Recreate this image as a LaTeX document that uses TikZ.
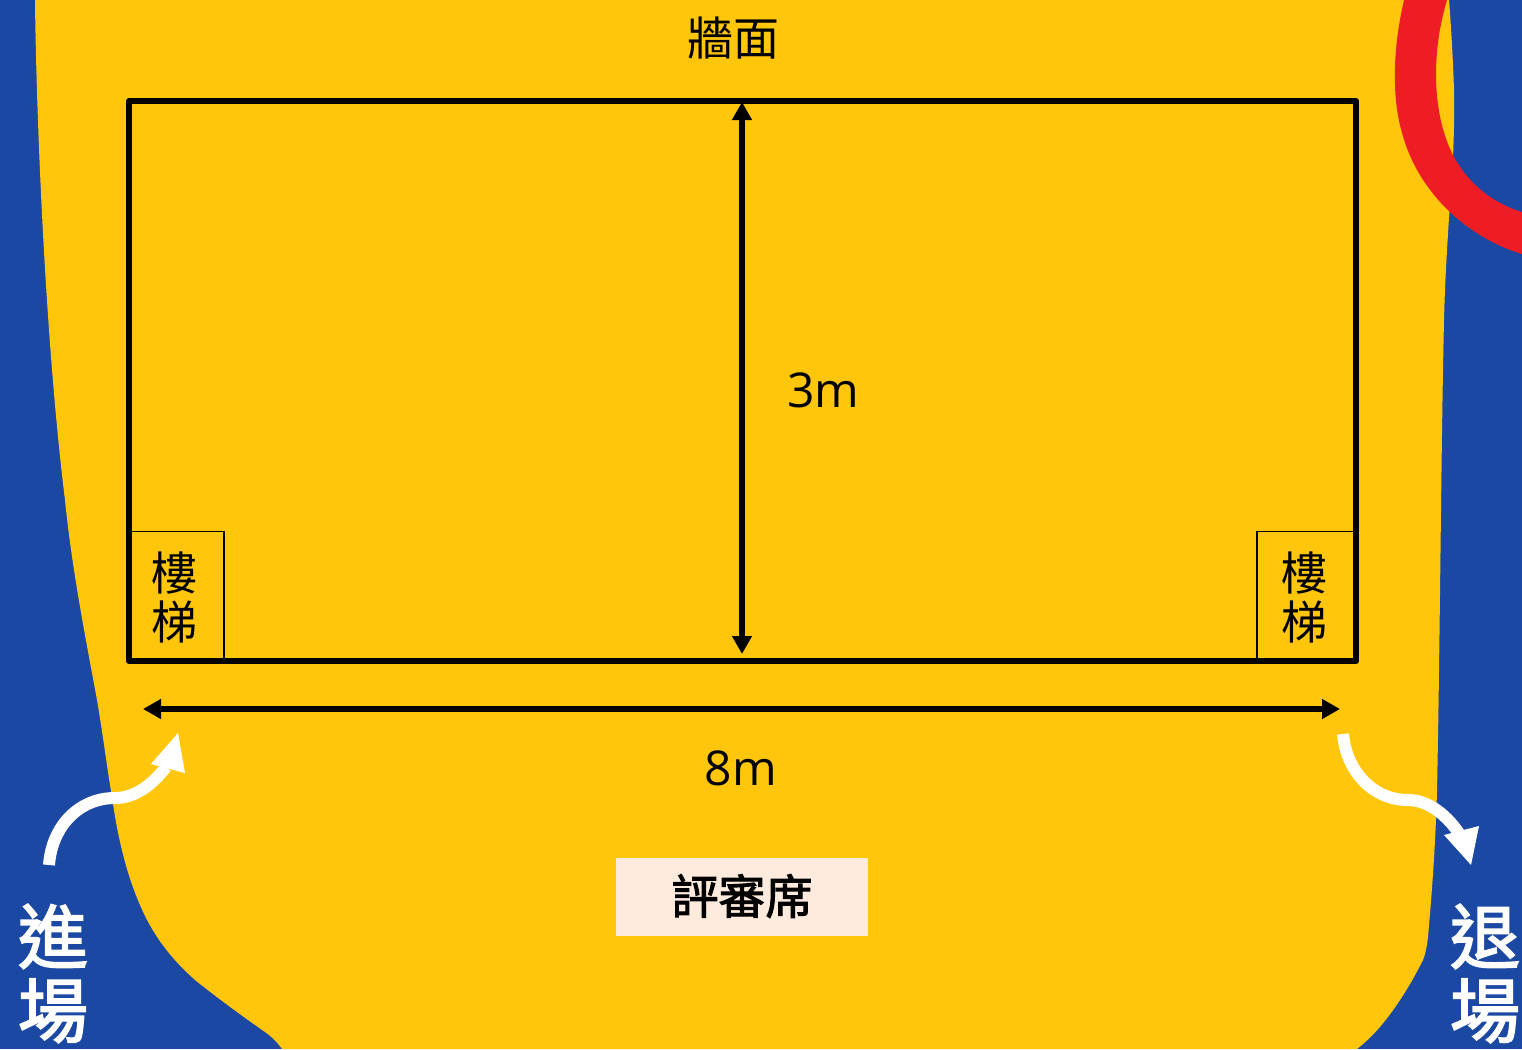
\documentclass[tikz,border=0pt]{standalone}
\usepackage{fontspec}
\setmainfont{Open Sans}
\newfontfamily\cjk{Noto Sans CJK TC}
\newfontfamily\cjkside[FakeBold=2.5]{Noto Sans CJK TC}
\newfontfamily\cjkjudge[FakeBold=2.2]{Noto Sans CJK TC}
\usetikzlibrary{arrows.meta}
\definecolor{bgblue}{HTML}{1B48A3}
\definecolor{stage}{HTML}{FFC60B}
\definecolor{redband}{HTML}{EE1C25}
\definecolor{judge}{HTML}{FFEBDD}
\tikzset{
  x=1pt,y=-1pt,
  dimline/.style={line width=5.5pt,{Triangle[length=18pt,width=19pt]}-{Triangle[length=18pt,width=19pt]},shorten <=0pt,shorten >=0pt},
  flow/.style={white,line width=12pt},
  flowhead/.style={fill=white,draw=none},
  label/.style={inner sep=0pt,font=\cjk\fontsize{46}{50}\selectfont},
  stairbox/.style={draw=black,line width=1.5pt,inner sep=0pt},
  stairtext/.style={inner sep=0pt,align=center,font=\cjk\fontsize{46}{49}\selectfont},
  sidetext/.style={inner sep=0pt,align=center,text=white,font=\cjkside\fontsize{70}{74}\selectfont},
  dimtext/.style={inner sep=0pt,font=\fontsize{48}{50}\selectfont},
}
\begin{document}
\begin{tikzpicture}
\useasboundingbox (0,0) rectangle (1522,1049);
\fill[bgblue] (0,0) rectangle (1522,1049);
% stage
\fill[stage] (35,0)
  .. controls (36,100) and (44,330) .. (65,500)
  .. controls (72,570) and (86,640) .. (97,700)
  .. controls (103,735) and (107,768) .. (112,797)
  .. controls (118,840) and (127,875) .. (140,905)
  .. controls (155,940) and (175,962) .. (195,980)
  .. controls (220,1000) and (245,1018) .. (265,1032)
  .. controls (272,1037) and (278,1043) .. (282,1049)
  -- (1357,1049)
  .. controls (1375,1035) and (1388,1018) .. (1400,1000)
  .. controls (1408,988) and (1416,974) .. (1423,960)
  .. controls (1427,950) and (1428,938) .. (1429,925)
  .. controls (1433,880) and (1436,830) .. (1437,790)
  .. controls (1440,650) and (1441,450) .. (1444,320)
  .. controls (1445,280) and (1447,250) .. (1449,217)
  .. controls (1452,185) and (1455,130) .. (1454,90)
  .. controls (1453,60) and (1451,25) .. (1449,0)
  -- cycle;
% red band
\fill[redband] (1404,0)
  .. controls (1397,30) and (1394,60) .. (1395,85)
  .. controls (1396,125) and (1408,160) .. (1428,187)
  .. controls (1450,218) and (1485,243) .. (1522,254)
  -- (1522,212)
  .. controls (1495,204) and (1470,186) .. (1454,157)
  .. controls (1442,135) and (1436,105) .. (1436,75)
  .. controls (1436,45) and (1441,20) .. (1447,0)
  -- cycle;
% room
\draw[black,line width=6pt,line join=round] (129,101) rectangle (1356,661);
\node[stairbox,minimum width=94pt,minimum height=129pt] (stairL) at (177,596) {};
\node[stairbox,minimum width=97pt,minimum height=129pt] (stairR) at (1305.5,596) {};
\node[stairtext] (stairLt) at (174.5,597) {樓\\梯};
\node[stairtext] (stairRt) at (1304.5,597) {樓\\梯};
% dimensions
\coordinate (dimT) at (742,102);
\coordinate (dimB) at (742,654);
\coordinate (dimL) at (143,709);
\coordinate (dimR) at (1340,709);
\draw[dimline] (dimT) -- (dimB);
\draw[dimline] (dimL) -- (dimR);
\node[dimtext] (h) at (823.5,390) {3m};
\node[dimtext] (w) at (741,768) {8m};
\node[label] (wall) at (733.5,38) {牆面};
\node[fill=judge,minimum width=252pt,minimum height=78pt,inner sep=0pt] (judgebox) at (742,897) {};
\node[label,font=\cjkjudge\fontsize{47}{50}\selectfont] (judgetext) at (742,896) {評審席};
% entry/exit
\coordinate (inS) at (49,865);
\coordinate (inE) at (166,767);
\coordinate (outS) at (1343,734);
\coordinate (outE) at (1462,838);
\draw[flow] (inS) .. controls (52,825) and (80,798) .. (115,798)
  .. controls (135,798) and (152,785) .. (inE);
\fill[flowhead] (178,733) -- (151,764) -- (185,773) -- cycle;
\draw[flow] (outS) .. controls (1346,770) and (1372,800) .. (1408,800)
  .. controls (1428,800) and (1448,815) .. (outE);
\fill[flowhead] (1471,865) -- (1444,835) -- (1479,826) -- cycle;
\node[sidetext] (enter) at (53,973.5) {進\\場};
\node[sidetext] (leave) at (1485,973.5) {退\\場};
\end{tikzpicture}
\end{document}
